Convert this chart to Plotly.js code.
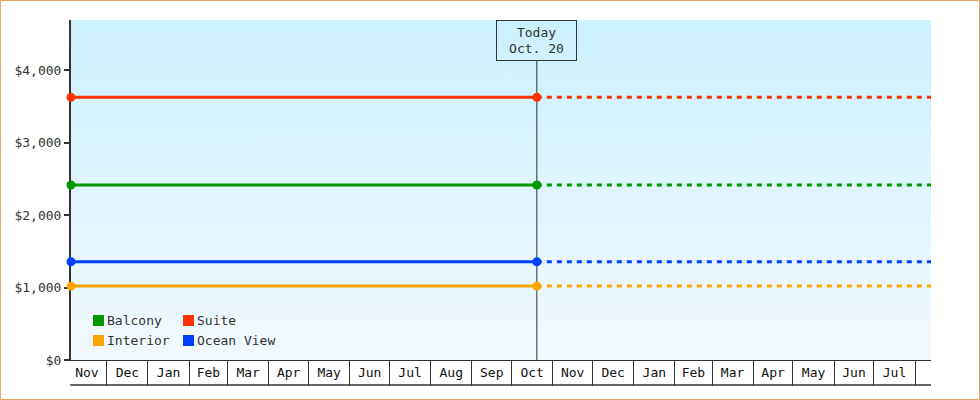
<!DOCTYPE html>
<html><head><meta charset="utf-8">
<script src="https://cdn.plot.ly/plotly-3.0.1.min.js"></script>
<style>
html,body{margin:0;padding:0;background:#fff;}
#wrap{position:relative;width:980px;height:400px;overflow:hidden;}
#bg{position:absolute;left:71px;top:20px;width:860px;height:340px;background:linear-gradient(to bottom,#ccf0fd,#f2f9fe);}
#chart{position:absolute;left:0;top:0;width:980px;height:400px;}
#frame{position:absolute;left:0;top:0;width:980px;height:400px;box-sizing:border-box;border:1px solid #e8a860;pointer-events:none;}
</style></head>
<body><div id="wrap"><div id="bg"></div><div id="chart"></div><div id="frame"></div></div>
<script>
// ---- data ----
const seriesNames  = ['Balcony', 'Suite', 'Interior', 'Ocean View'];
const seriesPrices = [2414, 3623, 1020, 1356];
const seriesColors = ['#009900', '#ff3300', '#ffa300', '#0040ff'];
const historyDates  = ['2023-11-04', '2024-10-20'];
const forecastDates = ['2024-10-20', '2025-08-13'];
const todayDate = '2024-10-20';
const todayText = 'Today<br>Oct. 20';
const monthStarts = ['2023-11-01','2023-12-01','2024-01-01','2024-02-01','2024-03-01','2024-04-01',
  '2024-05-01','2024-06-01','2024-07-01','2024-08-01','2024-09-01','2024-10-01','2024-11-01',
  '2024-12-01','2025-01-01','2025-02-01','2025-03-01','2025-04-01','2025-05-01','2025-06-01',
  '2025-07-01','2025-08-01'];
const monthLabels = ['Nov','Dec','Jan','Feb','Mar','Apr','May','Jun','Jul','Aug','Sep','Oct',
  'Nov','Dec','Jan','Feb','Mar','Apr','May','Jun','Jul'];
const yTickVals = [0, 1000, 2000, 3000, 4000];
const yTickText = ['$0', '$1,000', '$2,000', '$3,000', '$4,000'];
const yMax = 4690;

// ---- helpers ----
function pad(n){return (n<10?'0':'')+n;}
function fmt(ms){const d=new Date(ms);return d.getUTCFullYear()+'-'+pad(d.getUTCMonth()+1)+'-'+pad(d.getUTCDate())+' '+pad(d.getUTCHours())+':'+pad(d.getUTCMinutes());}
const monthMids = monthLabels.map((_, i) => fmt((Date.parse(monthStarts[i]+'T00:00:00Z') + Date.parse(monthStarts[i+1]+'T00:00:00Z'))/2));

const FONT = 'DejaVu Sans Mono, Liberation Mono, monospace';
const INK = '#333333';
const L = 71, T = 20, W = 860, H = 340;
const px2x = px => (px - L) / W;
const px2y = py => (T + H - py) / H;

// ---- traces ----
const traces = [];
seriesNames.forEach((name, i) => {
  traces.push({
    x: forecastDates, y: [seriesPrices[i], seriesPrices[i]],
    mode: 'lines', name: name + ' (forecast)', showlegend: false, hoverinfo: 'skip',
    line: {color: seriesColors[i], width: 3, dash: '5px,5px'}
  });
});
seriesNames.forEach((name, i) => {
  traces.push({
    x: historyDates, y: [seriesPrices[i], seriesPrices[i]],
    mode: 'lines+markers', name: name, showlegend: false, cliponaxis: false,
    line: {color: seriesColors[i], width: 3},
    marker: {color: seriesColors[i], size: 9}
  });
});

// ---- legend (drawn as squares + text) ----
const legendCols = [93, 183];
const legendRows = [320.5, 340.5];
const shapes = [];
const annotations = [];
seriesNames.forEach((name, i) => {
  const cx = legendCols[i % 2], cy = legendRows[Math.floor(i / 2)];
  shapes.push({type: 'rect', xref: 'paper', yref: 'paper',
    x0: px2x(cx), x1: px2x(cx + 11), y0: px2y(cy + 5.5), y1: px2y(cy - 5.5),
    fillcolor: seriesColors[i], line: {width: 0}});
  annotations.push({xref: 'paper', yref: 'paper', x: px2x(cx + 12), y: px2y(cy),
    xanchor: 'left', yanchor: 'middle', showarrow: false, text: name,
    font: {family: FONT, size: 13, color: INK}});
});

// today marker line + label
shapes.push({type: 'line', xref: 'x', yref: 'paper', x0: todayDate, x1: todayDate,
  y0: 0, y1: px2y(61), line: {color: INK, width: 1}, layer: 'below'});
annotations.push({xref: 'x', yref: 'paper', x: todayDate, y: 1, xanchor: 'center', yanchor: 'top',
  showarrow: false, text: todayText, align: 'center', width: 77, height: 37,
  bordercolor: INK, borderwidth: 1, borderpad: 1,
  font: {family: FONT, size: 13, color: INK}});
// bottom line of the month boxes
shapes.push({type: 'line', xref: 'paper', yref: 'paper', x0: -0.001, x1: 1,
  y0: px2y(385), y1: px2y(385), line: {color: INK, width: 1.5}});

const layout = {
  width: 980, height: 400,
  margin: {l: L, r: 980 - L - W, t: T, b: 400 - T - H},
  paper_bgcolor: 'rgba(0,0,0,0)', plot_bgcolor: 'rgba(0,0,0,0)',
  font: {family: FONT, size: 13, color: INK},
  showlegend: false,
  xaxis: {
    type: 'date', range: [historyDates[0], forecastDates[1]],
    tickmode: 'array', tickvals: monthMids, ticktext: monthLabels,
    ticks: '', showgrid: false, zeroline: false,
    showline: true, linecolor: INK, linewidth: 1,
    tickfont: {family: FONT, size: 13, color: '#111'},
    minor: {tickmode: 'array', tickvals: monthStarts, ticks: 'outside', ticklen: 25,
            tickcolor: INK, tickwidth: 1, showgrid: false},
    fixedrange: true
  },
  yaxis: {
    range: [0, yMax], tickmode: 'array', tickvals: yTickVals, ticktext: yTickText,
    ticks: 'outside', ticklen: 5, tickwidth: 2, tickcolor: INK,
    showline: true, linecolor: INK, linewidth: 2, layer: 'below traces',
    showgrid: false, zeroline: false,
    tickfont: {family: FONT, size: 13, color: INK},
    fixedrange: true
  },
  shapes: shapes,
  annotations: annotations
};

Plotly.newPlot('chart', traces, layout, {displayModeBar: false, staticPlot: true});
</script>
</body></html>
